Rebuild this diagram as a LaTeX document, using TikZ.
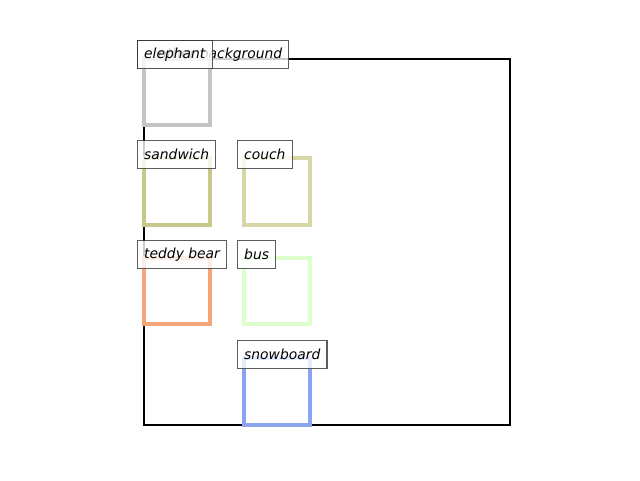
\documentclass[tikz,border=0pt]{standalone}
\usepackage{fontspec}
\setmainfont{DejaVu Sans}
\begin{document}
\begin{tikzpicture}[x=0.75pt,y=-0.75pt,
  bbox/.style={line width=2.3pt,line join=miter},
  lbl/.style={anchor=north west,draw=black!80,fill=white,fill opacity=0.8,draw opacity=0.8,text opacity=1,
    line width=0.8pt,inner xsep=5pt,inner ysep=0pt,minimum height=21pt,
    font=\fontsize{10.4pt}{12pt}\selectfont\itshape}]
\definecolor{cEle}{HTML}{C4C4C4}
\definecolor{cSand}{HTML}{C8C88A}
\definecolor{cCouch}{HTML}{D6D6A6}
\definecolor{cTeddy}{HTML}{F4A67A}
\definecolor{cBus}{HTML}{DDFFCC}
\definecolor{cSnow}{HTML}{8AA4F0}
\useasboundingbox (0,0) rectangle (640,480);
\draw[bbox,black,line width=2.2pt] (144,59) rectangle (510,425);
\node[lbl,text width=103.5pt,align=right] (lbg) at (137,40) {other background};
\draw[bbox,cEle] (144,59) rectangle (210,125);
\node[lbl] (lele) at (137,40) {elephant};
\draw[bbox,cSand] (144,158) rectangle (210,225);
\node[lbl] (lsand) at (137,140) {sandwich};
\draw[bbox,cCouch] (244,158) rectangle (310,225);
\node[lbl] (lcouch) at (237,140) {couch};
\draw[bbox,cTeddy] (144,258) rectangle (210,324);
\node[lbl] (lteddy) at (137,240) {teddy bear};
\draw[bbox,cBus] (244,258) rectangle (310,324);
\node[lbl] (lbus) at (237,240) {bus};
\draw[bbox,cSnow] (244,358) rectangle (310,425);
\node[lbl] (lsnow) at (237,340) {snowboard};
\end{tikzpicture}
\end{document}
